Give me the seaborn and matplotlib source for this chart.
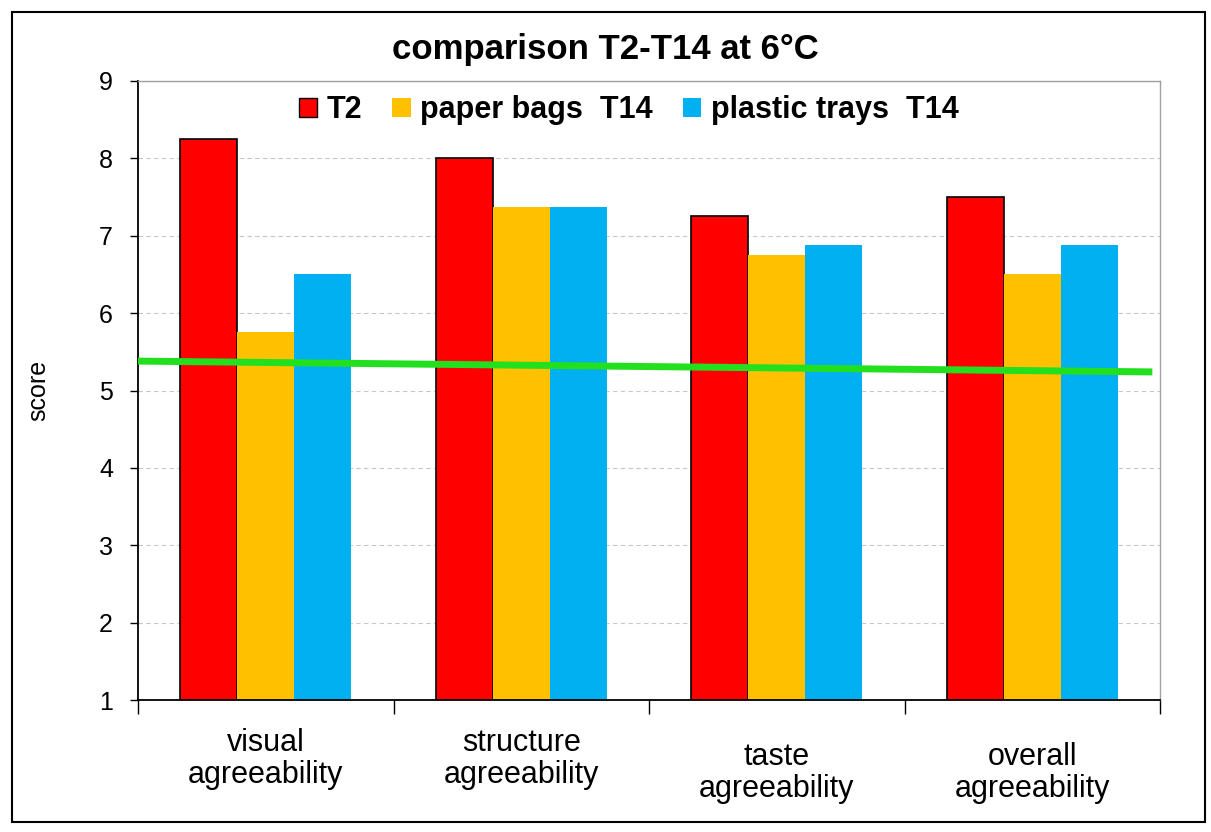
import matplotlib
matplotlib.use("Agg")
import matplotlib.pyplot as plt
import matplotlib.transforms as mtransforms
from matplotlib.patches import Rectangle, Patch
import seaborn as sns
import pandas as pd

categories = ["visual\nagreeability", "structure\nagreeability", "taste\nagreeability", "overall\nagreeability"]
series_names = ["T2", "paper bags  T14", "plastic trays  T14"]
t2_values = [8.25, 8.0, 7.25, 7.5]
paper_values = [5.75, 7.375, 6.75, 6.5]
plastic_values = [6.5, 7.375, 6.875, 6.875]
colors = ["#FF0000", "#FFC000", "#00B0F0"]
threshold_x = [-0.5, 3.47]
threshold_y = [5.38, 5.24]
yticks = [1, 2, 3, 4, 5, 6, 7, 8, 9]

rows = []
for name, vals in zip(series_names, [t2_values, paper_values, plastic_values]):
    for c, v in zip(categories, vals):
        rows.append({"category": c, "series": name, "score": v})
df = pd.DataFrame(rows)

sns.set_theme(style="white")
plt.rcParams['font.family'] = ['Liberation Sans', 'DejaVu Sans']
plt.rcParams['text.color'] = 'black'
plt.rcParams['axes.labelcolor'] = 'black'
plt.rcParams['xtick.color'] = 'black'
plt.rcParams['ytick.color'] = 'black'

fig = plt.figure(figsize=(12.11, 8.32), dpi=100)
ax = fig.add_axes([138/1211, 1 - 700/832, (1160-138)/1211, (700-81)/832])

sns.barplot(data=df, x="category", y="score", hue="series", order=categories,
            hue_order=series_names, palette=colors, width=0.67, saturation=1,
            ax=ax, legend=False, linewidth=0)
for p in ax.containers[0]:
    p.set_edgecolor("black")
    p.set_linewidth(1.2)

ax.plot(threshold_x, threshold_y, color="#22E01E", linewidth=5, solid_capstyle="butt", zorder=5)

ax.set_xlim(-0.5, 3.5)
ax.set_ylim(1, 9)
ax.set_yticks(yticks)
ax.set_yticklabels([str(t) for t in yticks], fontsize=18)
ax.yaxis.grid(True, linestyle=(0, (4, 3)), color="#C8C8C8", linewidth=0.8)
ax.set_axisbelow(True)

ax.set_xticks(range(len(categories)))
ax.set_xticklabels(categories, fontsize=22, linespacing=1.08)
ax.set_xticks([-0.5, 0.5, 1.5, 2.5, 3.5], minor=True)
ax.tick_params(axis="x", which="major", length=0, pad=20)
ax.tick_params(axis="x", which="minor", length=10, width=1, color="black", direction="out", bottom=True)
ax.tick_params(axis="y", length=6, width=1, color="black", direction="out", left=True, pad=12)
for i, lab in enumerate(ax.get_xticklabels()):
    if i >= 2:
        lab.set_transform(lab.get_transform() + mtransforms.ScaledTranslation(0, -14/100, fig.dpi_scale_trans))

ax.set_xlabel("")
ax.set_ylabel("score", fontsize=18)
ax.yaxis.set_label_coords((50 - 138) / 1022, 0.5)

for s in ["left", "bottom"]:
    ax.spines[s].set_color("black")
    ax.spines[s].set_linewidth(1.3)
for s in ["top", "right"]:
    ax.spines[s].set_color("#A0A0A0")
    ax.spines[s].set_linewidth(1.0)

handles = [Patch(facecolor=colors[0], edgecolor="black", linewidth=1),
           Patch(facecolor=colors[1], edgecolor="none"),
           Patch(facecolor=colors[2], edgecolor="none")]
leg = ax.legend(handles, series_names, loc="center", bbox_to_anchor=(0.48, 0.953), ncol=3,
                frameon=False, handlelength=0.6, handleheight=0.6, handletextpad=0.3,
                columnspacing=1.0, borderpad=0, prop={"weight": "bold", "size": 22})

fig.text(0.5, 1 - 50/832, "comparison T2-T14 at 6\u00b0C", ha="center", va="center",
         fontsize=25, fontweight="bold")

fig.patches.append(Rectangle((12/1211, 10/832), (1205-12)/1211, (820-10)/832, transform=fig.transFigure,
                             fill=False, edgecolor="black", linewidth=1.5))

fig.savefig("out.png", dpi=100)
